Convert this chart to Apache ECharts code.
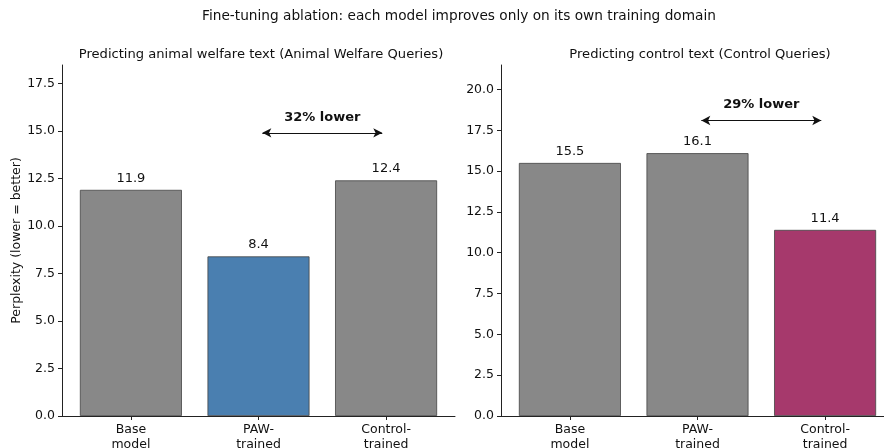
<!DOCTYPE html>
<html>
<head>
<meta charset="utf-8">
<title>Fine-tuning ablation</title>
<script src="https://cdn.jsdelivr.net/npm/echarts@6/dist/echarts.min.js"></script>
<style>
  html, body { margin: 0; padding: 0; background: #fff; }
  #main { width: 884px; height: 448px; }
</style>
</head>
<body>
<div id="main"></div>
<script type="text/javascript">
    // data
    var categories = ['Base\nmodel', 'PAW-\ntrained', 'Control-\ntrained'];
    var awValues = [11.9, 8.4, 12.4];
    var ctrlValues = [15.5, 16.1, 11.4];
    var awColors = ['#888888', '#4a7fb0', '#888888'];
    var ctrlColors = ['#888888', '#888888', '#a6396c'];
    var awTicks = [0, 2.5, 5, 7.5, 10, 12.5, 15, 17.5];
    var ctrlTicks = [0, 2.5, 5, 7.5, 10, 12.5, 15, 17.5, 20];
    // arrows: [x from, x to, y], label
    var awArrow = [1.03, 1.97, 14.9];
    var awArrowText = '32% lower';
    var ctrlArrow = [1.03, 1.97, 18.1];
    var ctrlArrowText = '29% lower';

    var font = 'DejaVu Sans';

    function barData(vals, colors) {
        return vals.map(function (v, i) {
            return { value: [i, v], itemStyle: { color: colors[i] } };
        });
    }

    function xAxisCfg(idx) {
        return {
            type: 'value', gridIndex: idx, min: -0.54, max: 2.54,
            splitLine: { show: false },
            axisLine: { show: true, onZero: false, lineStyle: { color: '#222', width: 1 } },
            axisTick: { show: true, customValues: [0, 1, 2], length: 4, lineStyle: { color: '#222' } },
            axisLabel: {
                customValues: [0, 1, 2], color: '#111', fontFamily: font, fontSize: 12.5,
                lineHeight: 15, margin: 6,
                formatter: function (v) { return categories[Math.round(v)]; }
            }
        };
    }

    function yAxisCfg(idx, max, ticks, name) {
        return {
            type: 'value', gridIndex: idx, min: 0, max: max,
            splitLine: { show: false },
            axisLine: { show: true, onZero: false, lineStyle: { color: '#222', width: 1 } },
            axisTick: { show: true, customValues: ticks, length: 4, lineStyle: { color: '#222' } },
            axisLabel: {
                customValues: ticks, color: '#111', fontFamily: font, fontSize: 12.5, margin: 7,
                formatter: function (v) { return v.toFixed(1); }
            },
            name: name, nameLocation: 'middle', nameGap: 37, nameRotate: 90,
            nameTextStyle: { color: '#111', fontFamily: font, fontSize: 12.5 }
        };
    }

    function barSeries(idx, vals, colors, arrow, text) {
        return {
            type: 'bar', xAxisIndex: idx, yAxisIndex: idx,
            data: barData(vals, colors),
            barWidth: 102,
            itemStyle: { borderColor: '#444', borderWidth: 0.8 },
            label: {
                show: true, position: 'top', distance: 5, color: '#111',
                fontFamily: font, fontSize: 13,
                formatter: function (p) { return p.value[1].toFixed(1); }
            },
            markLine: {
                silent: true, animation: false,
                symbol: ['arrow', 'arrow'], symbolSize: [7, 9],
                lineStyle: { color: '#111', width: 1.2, type: 'solid' },
                label: {
                    show: true, position: 'insideMiddleTop', distance: 9,
                    formatter: text, color: '#111', fontFamily: font,
                    fontSize: 13, fontWeight: 'bold'
                },
                data: [[{ coord: [arrow[0], arrow[2]] }, { coord: [arrow[1], arrow[2]] }]]
            }
        };
    }

    var myChart = echarts.init(document.getElementById('main'), null, { renderer: 'canvas' });

    var option = {
        animation: false,
        title: [
            {
                text: 'Fine-tuning ablation: each model improves only on its own training domain',
                left: 454, textAlign: 'center', top: 4,
                textStyle: { fontFamily: font, fontSize: 13.7, fontWeight: 'normal', color: '#111' }
            },
            {
                text: 'Predicting animal welfare text (Animal Welfare Queries)',
                left: 256, textAlign: 'center', top: 43,
                textStyle: { fontFamily: font, fontSize: 13.1, fontWeight: 'normal', color: '#111' }
            },
            {
                text: 'Predicting control text (Control Queries)',
                left: 695, textAlign: 'center', top: 43,
                textStyle: { fontFamily: font, fontSize: 13.1, fontWeight: 'normal', color: '#111' }
            }
        ],
        grid: [
            { left: 62, width: 393, top: 65, bottom: 32, outerBoundsMode: 'none', containLabel: false },
            { left: 501, width: 393, top: 65, bottom: 32, outerBoundsMode: 'none', containLabel: false }
        ],
        xAxis: [xAxisCfg(0), xAxisCfg(1)],
        yAxis: [
            yAxisCfg(0, 18.47, awTicks, 'Perplexity (lower = better)'),
            yAxisCfg(1, 21.5, ctrlTicks, '')
        ],
        series: [
            barSeries(0, awValues, awColors, awArrow, awArrowText),
            barSeries(1, ctrlValues, ctrlColors, ctrlArrow, ctrlArrowText)
        ]
    };

    myChart.setOption(option);
</script>
</body>
</html>
